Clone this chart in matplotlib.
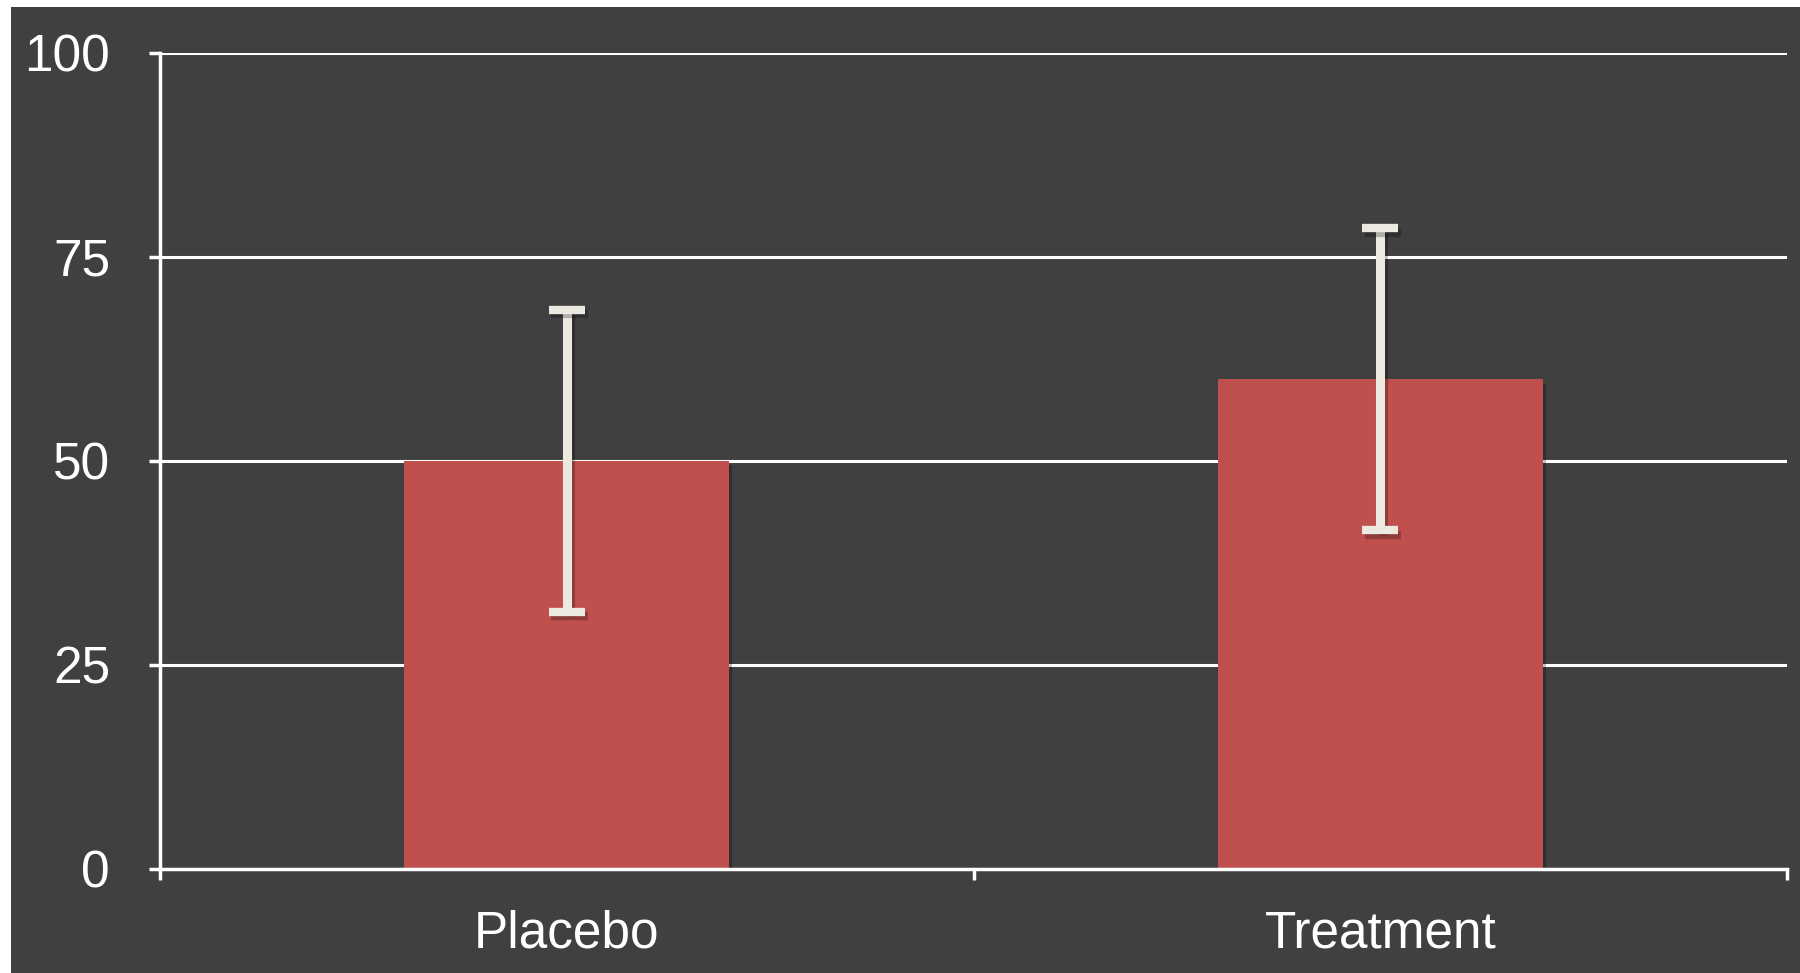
import matplotlib.pyplot as plt
import matplotlib.patheffects as pe
from matplotlib.patches import Rectangle

categories = ['Placebo', 'Treatment']
means = [50, 60]
errors = [18.5, 18.5]
y_ticks = [0, 25, 50, 75, 100]

bg = '#404040'
bar_color = '#C0504D'
err_color = '#ECEAE0'

plt.rcParams['font.family'] = ['Liberation Sans', 'DejaVu Sans']

fig = plt.figure(figsize=(18, 9.73), dpi=100, facecolor='white')
# dark panel, leaving a thin white strip on top and left like the original
fig.patches.append(Rectangle((11 / 1800, 0), 1, 1 - 7 / 973, transform=fig.transFigure,
                             facecolor=bg, edgecolor='none', zorder=-10))

ax = fig.add_axes([160 / 1800, 1 - 869 / 973, 1627 / 1800, 816 / 973])
ax.set_zorder(1)
ax.set_facecolor(bg)

x = list(range(len(categories)))
shadow = [pe.SimplePatchShadow(offset=(2, -3), shadow_rgbFace='black', alpha=0.25), pe.Normal()]
bars = ax.bar(x, means, width=0.4, color=bar_color, zorder=3)
for b in bars:
    b.set_path_effects(shadow)

eb = ax.errorbar(x, means, yerr=errors, fmt='none', ecolor=err_color,
                 elinewidth=6.5, capsize=13, capthick=6, zorder=4)
line_shadow = [pe.SimpleLineShadow(offset=(2, -3), shadow_color='black', alpha=0.25), pe.Normal()]
for artist in list(eb.lines[1]) + list(eb.lines[2]):
    artist.set_path_effects(line_shadow)

ax.set_xlim(-0.5, len(categories) - 0.5)
ax.set_ylim(0, 100)
ax.set_yticks(y_ticks)
ax.set_yticklabels([str(v) for v in y_ticks])
ax.yaxis.grid(True, color='white', linewidth=2.2, zorder=1)
ax.set_axisbelow(True)

ax.set_xticks(x)
ax.set_xticklabels(categories)
ax.set_xticks([i - 0.5 for i in range(len(categories) + 1)], minor=True)
ax.tick_params(axis='x', which='major', length=0, pad=29, labelsize=37, labelcolor='white')
ax.tick_params(axis='x', which='minor', length=8, width=2.5, color='white', direction='out')
ax.tick_params(axis='y', length=8, width=2.5, color='white', pad=28, labelsize=37,
               labelcolor='white')

for side in ['top', 'right']:
    ax.spines[side].set_visible(False)
for side in ['left', 'bottom']:
    ax.spines[side].set_color('white')
    ax.spines[side].set_linewidth(2.5)
    ax.spines[side].set_zorder(5)

fig.savefig('out.png', dpi=100, facecolor=fig.get_facecolor())
